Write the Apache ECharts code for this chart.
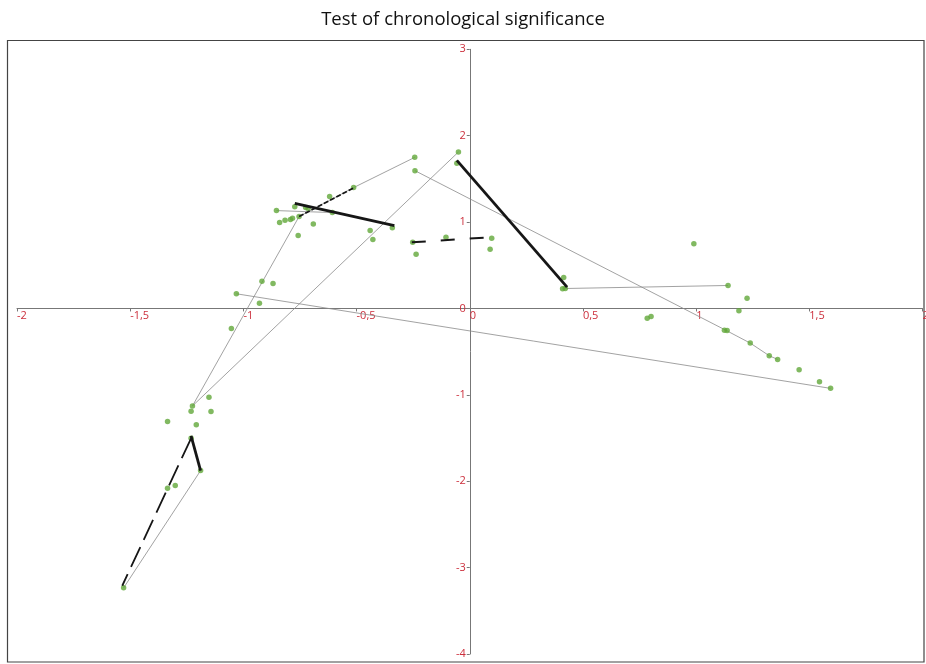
<!DOCTYPE html>
<html>
<head>
<meta charset="utf-8">
<script src="https://cdn.jsdelivr.net/npm/echarts@6/dist/echarts.min.js"></script>
<style>html,body{margin:0;padding:0;background:#fff}#c{width:926px;height:664px}</style>
</head>
<body>
<div id="c"></div>
<script>
const titleText = 'Test of chronological significance';
const pointX = [-0.243,-0.242,-0.513,-0.619,-0.773,-0.854,-0.725,-0.714,-0.607,-0.840,-0.816,-0.792,-0.783,-0.754,-0.691,-0.758,-0.440,-0.428,-0.342,-0.918,-0.869,-1.031,-0.929,-1.053,-0.050,-0.057,-0.252,-0.237,-0.105,0.097,0.090,0.415,0.410,0.422,0.990,1.141,1.225,1.189,0.784,0.801,1.125,1.137,1.239,1.323,1.360,1.455,1.545,1.594,-1.225,-1.231,-1.152,-1.143,-1.335,-1.208,-1.231,-1.189,-1.335,-1.301,-1.529];
const pointY = [1.749,1.595,1.399,1.295,1.176,1.133,1.170,1.156,1.110,0.994,1.021,1.029,1.044,1.064,0.979,0.844,0.902,0.798,0.933,0.316,0.289,0.170,0.061,-0.231,1.811,1.680,0.767,0.628,0.824,0.813,0.686,0.358,0.228,0.231,0.748,0.266,0.119,-0.027,-0.112,-0.092,-0.251,-0.254,-0.401,-0.547,-0.590,-0.709,-0.848,-0.925,-1.129,-1.191,-1.029,-1.194,-1.310,-1.345,-1.503,-1.877,-2.081,-2.050,-3.234];

const thinPathA = [[-1.225,-1.129],[-0.754,1.064],[-0.513,1.399],[-0.243,1.749]];
const thinPathB = [[-0.242,1.595],[1.131,-0.252],[1.239,-0.401],[1.323,-0.547],[1.360,-0.590]];
const thinPathC = [[-1.031,0.170],[1.594,-0.925]];
const thinPathD = [[-1.225,-1.129],[-0.050,1.811]];
const thinPathE = [[0.422,0.231],[1.141,0.266]];
const thinPathF = [[-0.854,1.133],[-0.607,1.110]];
const thinPathG = [[-1.189,-1.877],[-1.529,-3.234]];

const thickA = [[-0.773,1.217],[-0.333,0.960]];
const thickB = [[-0.057,1.714],[0.430,0.247]];
const thickC = [[-1.231,-1.476],[-1.189,-1.877]];

const dashA = [[-0.754,1.064],[-0.508,1.402]];
const dashB = [[-0.256,0.766],[0.068,0.821]];
const dashC = [[-1.231,-1.503],[-1.535,-3.210]];

const xMin = -2, xMax = 2, xStep = 0.5;
const yMin = -4, yMax = 3, yStep = 1;

const W = 926, H = 664;
const gridBox = { left: 17, right: 3.5, top: 49.3, bottom: 10 };
const gw = W - gridBox.left - gridBox.right, gh = H - gridBox.top - gridBox.bottom;
// move the axes so that they cross at the origin (axes drawn at x=0 / y=0)
const xAxisOffset = -gh * (0 - yMin) / (yMax - yMin);
const yAxisOffset = -gw * (0 - xMin) / (xMax - xMin);

const fmt = v => String(Math.round(v * 10) / 10).replace('.', ',');
const labelColor = '#cc2f3c';

function lineSeries(data, width, color, type, z) {
  return { type: 'line', data: data, symbol: 'none', silent: true, z: z,
    lineStyle: { width: width, color: color, type: type, cap: 'butt' } };
}

const chart = echarts.init(document.getElementById('c'), null, { renderer: 'canvas' });
chart.setOption({
  animation: false,
  backgroundColor: '#fff',
  title: { text: titleText, left: 'center', top: 5,
    textStyle: { fontFamily: 'Open Sans', fontSize: 18.5, fontWeight: 'normal', color: '#111' } },
  graphic: [{ type: 'rect', shape: { x: 7.5, y: 40.5, width: 916.5, height: 621.5 },
    style: { fill: 'none', stroke: '#444', lineWidth: 1.2 }, z: 0 }],
  grid: { left: gridBox.left, right: gridBox.right, top: gridBox.top, bottom: gridBox.bottom, containLabel: false, outerBoundsMode: 'none' },
  xAxis: { type: 'value', min: xMin, max: xMax, interval: xStep, position: 'bottom', offset: xAxisOffset,
    axisLine: { onZero: false, lineStyle: { color: '#777', width: 1 } },
    axisTick: { show: true, length: 3, lineStyle: { color: '#777' } },
    splitLine: { show: false },
    axisLabel: { formatter: fmt, color: labelColor, fontFamily: 'Open Sans', fontSize: 11, margin: 2, align: 'left', showMinLabel: true, showMaxLabel: true } },
  yAxis: { type: 'value', min: yMin, max: yMax, interval: yStep, position: 'left', offset: yAxisOffset,
    axisLine: { onZero: false, lineStyle: { color: '#777', width: 1 } },
    axisTick: { show: true, length: 3, lineStyle: { color: '#777' } },
    splitLine: { show: false },
    axisLabel: { formatter: fmt, color: labelColor, fontFamily: 'Open Sans', fontSize: 11, margin: 4, showMinLabel: true, showMaxLabel: true } },
  series: [
    lineSeries(thinPathA, 0.8, '#8a8a8a', 'solid', 2),
    lineSeries(thinPathB, 0.8, '#8a8a8a', 'solid', 2),
    lineSeries(thinPathC, 0.8, '#8a8a8a', 'solid', 2),
    lineSeries(thinPathD, 0.8, '#8a8a8a', 'solid', 2),
    lineSeries(thinPathE, 0.8, '#8a8a8a', 'solid', 2),
    lineSeries(thinPathF, 0.8, '#8a8a8a', 'solid', 2),
    lineSeries(thinPathG, 0.8, '#8a8a8a', 'solid', 2),
    { type: 'scatter', z: 3, symbol: 'circle', symbolSize: 5.5, silent: true,
      itemStyle: { color: '#62a83a' },
      data: pointX.map((x, i) => [x, pointY[i]]) },
    lineSeries(thickA, 2.8, '#161616', 'solid', 4),
    lineSeries(thickB, 2.8, '#161616', 'solid', 4),
    lineSeries(thickC, 2.8, '#161616', 'solid', 4),
    lineSeries(dashA, 1.8, '#161616', [5, 2], 4),
    lineSeries(dashB, 2, '#161616', [14, 15], 4),
    lineSeries(dashC, 1.8, '#161616', [22, 8], 4)
  ]
});
</script>
</body>
</html>
